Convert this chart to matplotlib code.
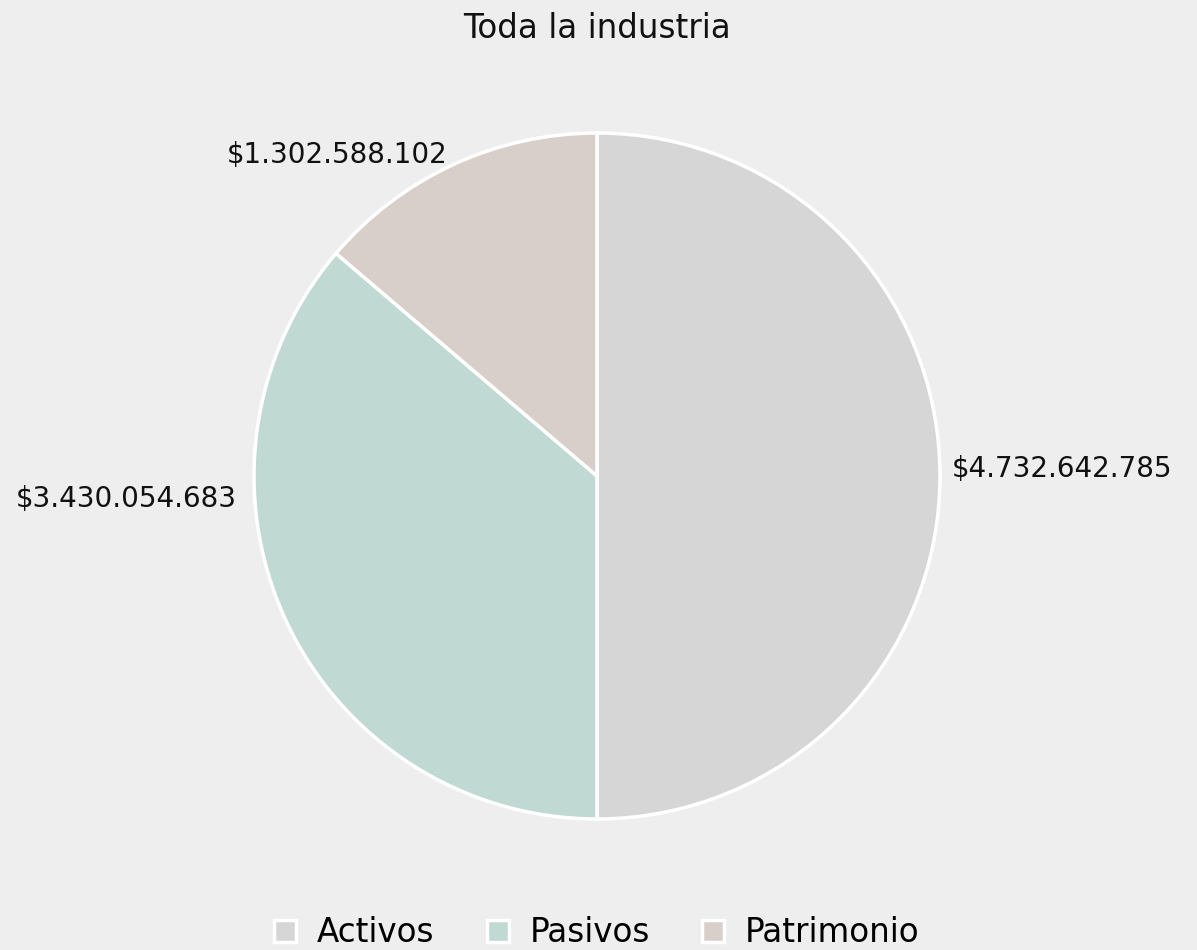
import matplotlib.pyplot as plt
from matplotlib.patches import Patch

categories = ['Activos', 'Pasivos', 'Patrimonio']
values = [4732642785, 3430054683, 1302588102]
value_labels = ['$4.732.642.785', '$3.430.054.683', '$1.302.588.102']
colors = ['#d6d6d6', '#c0d9d3', '#d9cfca']
bg = '#eeeeee'

plt.rcParams['font.family'] = ['DejaVu Sans']

fig = plt.figure(figsize=(11.97, 9.5), dpi=100, facecolor=bg)
ax = fig.add_axes([0.2122, 0.1379, 0.5731, 0.7221])
ax.set_facecolor(bg)

wedges, _ = ax.pie(values, colors=colors, startangle=90, counterclock=False,
                   wedgeprops=dict(edgecolor='white', linewidth=2.5))
ax.set_xlim(-1, 1)
ax.set_ylim(-1, 1)
ax.set_aspect('equal')
ax.axis('off')

# label placement (outside the wedges), baseline anchored
label_pos = [(1.035, -0.003, 'left'), (-1.05, -0.09, 'right'), (-0.437, 0.9125, 'right')]
for (x, y, ha), txt in zip(label_pos, value_labels):
    ax.text(x, y, txt, ha=ha, va='baseline', fontsize=20, color='#111111')

fig.text(0.4987, 0.96, 'Toda la industria', ha='center', va='baseline', fontsize=23.5, color='#111111')

handles = [Patch(facecolor=c, edgecolor='white', linewidth=2.5) for c in colors]
fig.legend(handles, categories, loc='center', bbox_to_anchor=(0.4987, 0.018), ncol=3,
           frameon=False, fontsize=23.5, handlelength=0.67, handleheight=0.67,
           columnspacing=1.6, handletextpad=0.64, borderpad=0.2)

fig.savefig('out.png', dpi=100, facecolor=bg)
